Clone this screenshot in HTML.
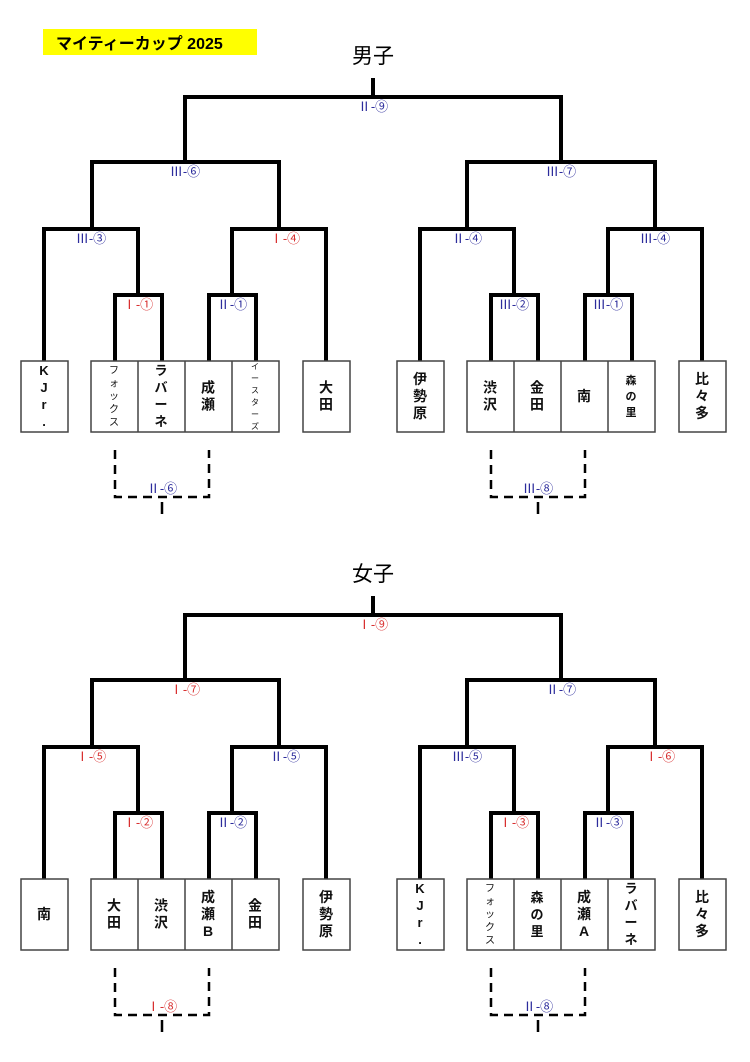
<!DOCTYPE html>
<html><head><meta charset="utf-8"><style>
html,body{margin:0;padding:0;background:#fff;width:750px;height:1062px;overflow:hidden}
text{font-family:"Liberation Sans","Noto Sans CJK JP",sans-serif}
.l{font-size:13px;text-anchor:middle;font-family:"Liberation Serif","Noto Sans CJK JP",serif}
.b{fill:#2c2c9c}.r{fill:#d83030}
.n{text-anchor:middle;font-weight:bold;fill:#111}
</style></head><body>
<svg width="750" height="1062" viewBox="0 0 750 1062" xmlns="http://www.w3.org/2000/svg">
<defs>
<g id="br">
<path d="M373 80V97 M185 162V97H561V162 M92 229V162H279V229 M44 361V229H138V295 M115 361V295H162V361 M232 295V229H326V361 M209 361V295H256V361 M467 229V162H655V229 M420 361V229H514V295 M491 361V295H538V361 M608 295V229H702V361 M585 361V295H632V361" stroke="#000" stroke-width="4" fill="none" stroke-linecap="square"/>
<g fill="#fff" stroke="#444" stroke-width="1.5">
<rect x="21" y="361" width="47" height="71"/><rect x="91" y="361" width="188" height="71"/>
<rect x="303" y="361" width="47" height="71"/><rect x="397" y="361" width="47" height="71"/>
<rect x="467" y="361" width="188" height="71"/><rect x="679" y="361" width="47" height="71"/>
<path d="M138 361V432M185 361V432M232 361V432M514 361V432M561 361V432M608 361V432"/>
</g>
<path d="M115 450V497H209V450 M491 450V497H585V450" stroke="#000" stroke-width="2.5" fill="none" stroke-dasharray="9,6"/>
<path d="M162 502V514 M538 502V514" stroke="#000" stroke-width="2.5" fill="none"/>
</g>
</defs>
<rect x="43" y="29" width="214" height="26" fill="#ffff00"/>
<text x="56" y="49" font-size="16" font-weight="bold">マイティーカップ  2025</text>
<text x="373" y="63" font-size="21" text-anchor="middle">男子</text>
<text x="373" y="581" font-size="21" text-anchor="middle">女子</text>
<use href="#br"/>
<use href="#br" transform="translate(0,518)"/>
<g class="l">
<text x="373" y="111" class="b">Ⅱ-⑨</text>
<text x="185" y="176" class="b">Ⅲ-⑥</text>
<text x="561" y="176" class="b">Ⅲ-⑦</text>
<text x="91" y="243" class="b">Ⅲ-③</text>
<text x="285" y="243" class="r">Ⅰ-④</text>
<text x="467" y="243" class="b">Ⅱ-④</text>
<text x="655" y="243" class="b">Ⅲ-④</text>
<text x="138" y="309" class="r">Ⅰ-①</text>
<text x="232" y="309" class="b">Ⅱ-①</text>
<text x="514" y="309" class="b">Ⅲ-②</text>
<text x="608" y="309" class="b">Ⅲ-①</text>
<text x="162" y="493" class="b">Ⅱ-⑥</text>
<text x="538" y="493" class="b">Ⅲ-⑧</text>
</g>
<g class="l" transform="translate(0,518)">
<text x="373" y="111" class="r">Ⅰ-⑨</text>
<text x="185" y="176" class="r">Ⅰ-⑦</text>
<text x="561" y="176" class="b">Ⅱ-⑦</text>
<text x="91" y="243" class="r">Ⅰ-⑤</text>
<text x="285" y="243" class="b">Ⅱ-⑤</text>
<text x="467" y="243" class="b">Ⅲ-⑤</text>
<text x="660" y="243" class="r">Ⅰ-⑥</text>
<text x="138" y="309" class="r">Ⅰ-②</text>
<text x="232" y="309" class="b">Ⅱ-②</text>
<text x="514" y="309" class="r">Ⅰ-③</text>
<text x="608" y="309" class="b">Ⅱ-③</text>
<text x="162" y="493" class="r">Ⅰ-⑧</text>
<text x="538" y="493" class="b">Ⅱ-⑧</text>
</g>
<g class="n">
<text font-size="13" y="375"><tspan x="44">K</tspan><tspan x="44" dy="17">J</tspan><tspan x="44" dy="17">r</tspan><tspan x="44" dy="17">.</tspan></text>
<text font-size="10" font-weight="normal" y="373.5"><tspan x="114">フ</tspan><tspan x="114" dy="13">ォ</tspan><tspan x="114" dy="13">ッ</tspan><tspan x="114" dy="13">ク</tspan><tspan x="114" dy="13">ス</tspan></text>
<text font-size="13" y="375"><tspan x="161">ラ</tspan><tspan x="161" dy="17">バ</tspan><tspan x="161" dy="17">ー</tspan><tspan x="161" dy="17">ネ</tspan></text>
<text font-size="14" y="392.5"><tspan x="208">成</tspan><tspan x="208" dy="17">瀬</tspan></text>
<text font-size="8" font-weight="normal" y="369"><tspan x="255">イ</tspan><tspan x="255" dy="12">ー</tspan><tspan x="255" dy="12">ス</tspan><tspan x="255" dy="12">タ</tspan><tspan x="255" dy="12">ー</tspan><tspan x="255" dy="12">ズ</tspan></text>
<text font-size="14" y="392.5"><tspan x="326">大</tspan><tspan x="326" dy="17">田</tspan></text>
<text font-size="14" y="384"><tspan x="420">伊</tspan><tspan x="420" dy="17">勢</tspan><tspan x="420" dy="17">原</tspan></text>
<text font-size="14" y="392.5"><tspan x="490">渋</tspan><tspan x="490" dy="17">沢</tspan></text>
<text font-size="14" y="392.5"><tspan x="537">金</tspan><tspan x="537" dy="17">田</tspan></text>
<text font-size="14" y="401" x="584">南</text>
<text font-size="11" y="384"><tspan x="631">森</tspan><tspan x="631" dy="16">の</tspan><tspan x="631" dy="16">里</tspan></text>
<text font-size="14" y="384"><tspan x="702">比</tspan><tspan x="702" dy="17">々</tspan><tspan x="702" dy="17">多</tspan></text>
</g>
<g class="n" transform="translate(0,518)">
<text font-size="14" y="401" x="44">南</text>
<text font-size="14" y="392.5"><tspan x="114">大</tspan><tspan x="114" dy="17">田</tspan></text>
<text font-size="14" y="392.5"><tspan x="161">渋</tspan><tspan x="161" dy="17">沢</tspan></text>
<text font-size="14" y="384"><tspan x="208">成</tspan><tspan x="208" dy="17">瀬</tspan><tspan x="208" dy="17">B</tspan></text>
<text font-size="14" y="392.5"><tspan x="255">金</tspan><tspan x="255" dy="17">田</tspan></text>
<text font-size="14" y="384"><tspan x="326">伊</tspan><tspan x="326" dy="17">勢</tspan><tspan x="326" dy="17">原</tspan></text>
<text font-size="13" y="375"><tspan x="420">K</tspan><tspan x="420" dy="17">J</tspan><tspan x="420" dy="17">r</tspan><tspan x="420" dy="17">.</tspan></text>
<text font-size="10" font-weight="normal" y="373.5"><tspan x="490">フ</tspan><tspan x="490" dy="13">ォ</tspan><tspan x="490" dy="13">ッ</tspan><tspan x="490" dy="13">ク</tspan><tspan x="490" dy="13">ス</tspan></text>
<text font-size="13" y="384"><tspan x="537">森</tspan><tspan x="537" dy="17">の</tspan><tspan x="537" dy="17">里</tspan></text>
<text font-size="14" y="384"><tspan x="584">成</tspan><tspan x="584" dy="17">瀬</tspan><tspan x="584" dy="17">A</tspan></text>
<text font-size="13" y="375"><tspan x="631">ラ</tspan><tspan x="631" dy="17">バ</tspan><tspan x="631" dy="17">ー</tspan><tspan x="631" dy="17">ネ</tspan></text>
<text font-size="14" y="384"><tspan x="702">比</tspan><tspan x="702" dy="17">々</tspan><tspan x="702" dy="17">多</tspan></text>
</g>
</svg>
</body></html>
